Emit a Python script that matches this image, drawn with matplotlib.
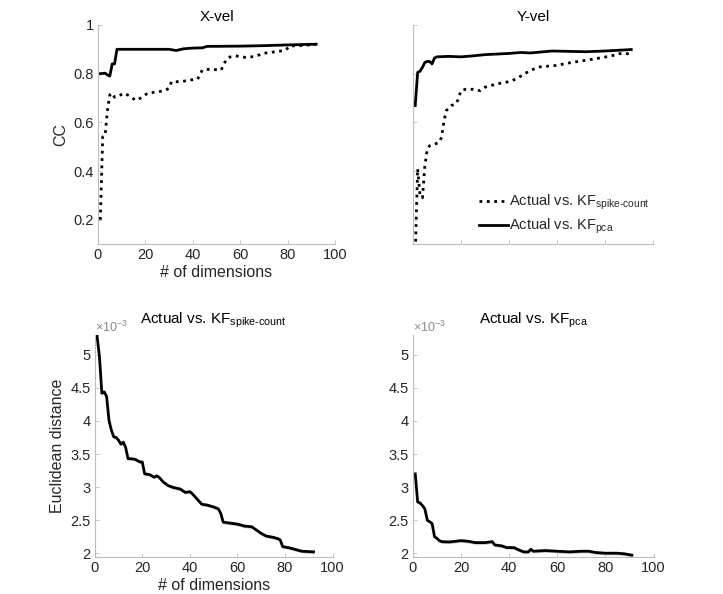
import matplotlib
matplotlib.use("Agg")
import matplotlib.pyplot as plt
import numpy as np

plt.rcParams['font.family'] = ['Liberation Sans', 'DejaVu Sans']
plt.rcParams['mathtext.fontset'] = 'custom'
plt.rcParams['mathtext.rm'] = 'Liberation Sans'
plt.rcParams['mathtext.it'] = 'Liberation Sans'

# ---------------- data ----------------
# X-vel CC
xvel_sc_x = [1, 2, 3, 4, 5, 6, 7, 9, 11, 13, 16, 18, 21, 25, 28, 30, 31, 35, 39, 42, 44, 47, 52, 53, 55, 58, 62, 66, 70, 75, 79, 81, 85, 92]
xvel_sc_y = [0.20, 0.54, 0.545, 0.65, 0.713, 0.72, 0.703, 0.71, 0.72, 0.71, 0.69, 0.70, 0.72, 0.725, 0.73, 0.74, 0.767, 0.767, 0.774, 0.777, 0.815, 0.818, 0.815, 0.84, 0.867, 0.873, 0.867, 0.87, 0.884, 0.89, 0.896, 0.914, 0.915, 0.92]
xvel_pca_x = [1, 3, 4, 5, 6, 7, 8, 12, 20, 30, 33, 36, 40, 44, 46, 60, 70, 80, 92]
xvel_pca_y = [0.80, 0.802, 0.795, 0.79, 0.84, 0.84, 0.90, 0.90, 0.90, 0.90, 0.895, 0.902, 0.905, 0.906, 0.912, 0.913, 0.915, 0.918, 0.921]

# Y-vel CC
yvel_sc_x = [1, 2, 3, 4, 5, 6, 7, 9, 11, 12, 13, 14, 16, 18, 19, 20, 22, 25, 28, 30, 35, 40, 43, 46, 49, 53, 60, 65, 72, 79, 84, 86, 91]
yvel_sc_y = [0.05, 0.41, 0.30, 0.29, 0.42, 0.49, 0.504, 0.51, 0.518, 0.54, 0.608, 0.649, 0.669, 0.676, 0.697, 0.73, 0.736, 0.736, 0.73, 0.744, 0.758, 0.767, 0.778, 0.796, 0.814, 0.828, 0.834, 0.844, 0.855, 0.866, 0.876, 0.882, 0.882]
yvel_pca_x = [1, 2, 3, 4, 5, 6, 7, 8, 9, 10, 15, 20, 25, 30, 40, 45, 49, 58, 72, 80, 91]
yvel_pca_y = [0.669, 0.805, 0.81, 0.826, 0.846, 0.85, 0.85, 0.84, 0.864, 0.869, 0.871, 0.869, 0.873, 0.878, 0.883, 0.887, 0.885, 0.893, 0.89, 0.893, 0.899]

# Euclidean distance (x1e-3)
ed_sc_x = [1, 2, 3, 4, 5, 6, 7, 8, 9, 10, 11, 12, 13, 14, 15, 17, 19, 20, 21, 23, 25, 26, 27, 29, 31, 33, 36, 38, 40, 41, 43, 45, 47, 50, 52, 53, 54, 56, 60, 63, 66, 68, 70, 72, 75, 77, 78, 79, 82, 85, 87, 92]
ed_sc_y = [5.28, 4.97, 4.42, 4.44, 4.37, 4.01, 3.86, 3.76, 3.75, 3.71, 3.65, 3.68, 3.60, 3.43, 3.43, 3.42, 3.38, 3.38, 3.20, 3.19, 3.15, 3.17, 3.15, 3.07, 3.02, 2.995, 2.97, 2.92, 2.93, 2.90, 2.82, 2.74, 2.73, 2.70, 2.67, 2.60, 2.47, 2.46, 2.44, 2.41, 2.40, 2.35, 2.30, 2.26, 2.24, 2.22, 2.20, 2.10, 2.08, 2.05, 2.03, 2.02]
ed_pca_x = [1, 2, 3, 4, 5, 6, 7, 8, 9, 10, 11, 12, 15, 20, 23, 26, 30, 32, 33, 34, 37, 39, 42, 44, 46, 48, 49, 50, 55, 60, 65, 70, 73, 76, 80, 85, 88, 91]
ed_pca_y = [3.20, 2.775, 2.76, 2.72, 2.67, 2.50, 2.475, 2.45, 2.25, 2.225, 2.19, 2.175, 2.17, 2.19, 2.18, 2.16, 2.16, 2.17, 2.175, 2.125, 2.11, 2.085, 2.085, 2.05, 2.02, 2.02, 2.06, 2.03, 2.04, 2.03, 2.02, 2.03, 2.03, 2.01, 2.00, 2.00, 1.99, 1.97]

xticks = [0, 20, 40, 60, 80, 100]
cc_ticks = [0.2, 0.4, 0.6, 0.8, 1.0]
cc_ticklabels = ['0.2', '0.4', '0.6', '0.8', '1']
ed_ticks = [2, 2.5, 3, 3.5, 4, 4.5, 5]
ed_ticklabels = ['2', '2.5', '3', '3.5', '4', '4.5', '5']

lbl_sc = 'Actual vs. KF$_{\\mathrm{spike}\u2010\\mathrm{count}}$'
lbl_pca = r'Actual vs. KF$_{\mathrm{pca}}$'

# ---------------- figure ----------------
fig = plt.figure(figsize=(7.23, 5.94), dpi=100)
axcol = '#262626'
fs = 10.5

def style(ax):
    for s in ['top', 'right']:
        ax.spines[s].set_visible(False)
    for s in ['left', 'bottom']:
        ax.spines[s].set_color('#bdbdbd')
        ax.spines[s].set_linewidth(0.8)
    ax.tick_params(direction='in', length=3, width=0.6, colors='#bdbdbd',
                   labelcolor=axcol, labelsize=fs, pad=3)
    ax.set_xlim(0, 100)
    ax.set_xticks(xticks)

ax1 = fig.add_axes([0.1355, 0.589, 0.328, 0.369])
ax2 = fig.add_axes([0.571, 0.589, 0.332, 0.369])
ax3 = fig.add_axes([0.131, 0.062, 0.329, 0.374])
ax4 = fig.add_axes([0.571, 0.062, 0.333, 0.374])

for ax in (ax1, ax2):
    style(ax)
    ax.set_ylim(0.1, 1.0)
    ax.set_yticks(cc_ticks)

ax1.plot(xvel_sc_x, xvel_sc_y, color='black', linestyle=':', linewidth=2)
ax1.plot(xvel_pca_x, xvel_pca_y, color='black', linestyle='-', linewidth=2)
ax1.set_yticklabels(cc_ticklabels)
ax1.set_xticklabels([str(t) for t in xticks])
ax1.set_title('X-vel', fontsize=11, color='black', pad=3)
ax1.set_ylabel('CC', fontsize=11.5, color=axcol, labelpad=4)
ax1.set_xlabel('# of dimensions', fontsize=11.5, color=axcol, labelpad=2)

ax2.plot(yvel_sc_x, yvel_sc_y, color='black', linestyle=':', linewidth=2, label=lbl_sc)
ax2.plot(yvel_pca_x, yvel_pca_y, color='black', linestyle='-', linewidth=2, label=lbl_pca)
ax2.set_yticklabels([])
ax2.set_xticklabels([])
ax2.set_title('Y-vel', fontsize=11, color='black', pad=3)
ax2.legend(loc='lower left', bbox_to_anchor=(0.22, -0.025), frameon=False,
           fontsize=fs, handlelength=2.0, handletextpad=0.05, labelspacing=0.35,
           labelcolor=axcol)

for ax, xs, ys in ((ax3, ed_sc_x, ed_sc_y), (ax4, ed_pca_x, ed_pca_y)):
    style(ax)
    ax.set_ylim(1.94, 5.3)
    ax.set_yticks(ed_ticks)
    ax.set_yticklabels(ed_ticklabels)
    ax.set_xticklabels([str(t) for t in xticks])
    ys_arr = np.asarray(ys)
    ax.fill_between(xs, ys_arr - 0.025, ys_arr + 0.025, color='#c8c8c8', linewidth=0)
    ax.plot(xs, ys, color='black', linewidth=2)
    ax.text(0.0, 1.0, r'$\times10^{-3}$', transform=ax.transAxes, fontsize=9,
            color='#8a8a8a', ha='left', va='bottom')

ax3.set_title(lbl_sc, fontsize=11, color='black', pad=8)
ax4.set_title(lbl_pca, fontsize=11, color='black', pad=8)
ax3.set_ylabel('Euclidean distance', fontsize=11.5, color=axcol, labelpad=4)
ax3.set_xlabel('# of dimensions', fontsize=11.5, color=axcol, labelpad=2)

fig.savefig('out.png', dpi=100, facecolor='white')
